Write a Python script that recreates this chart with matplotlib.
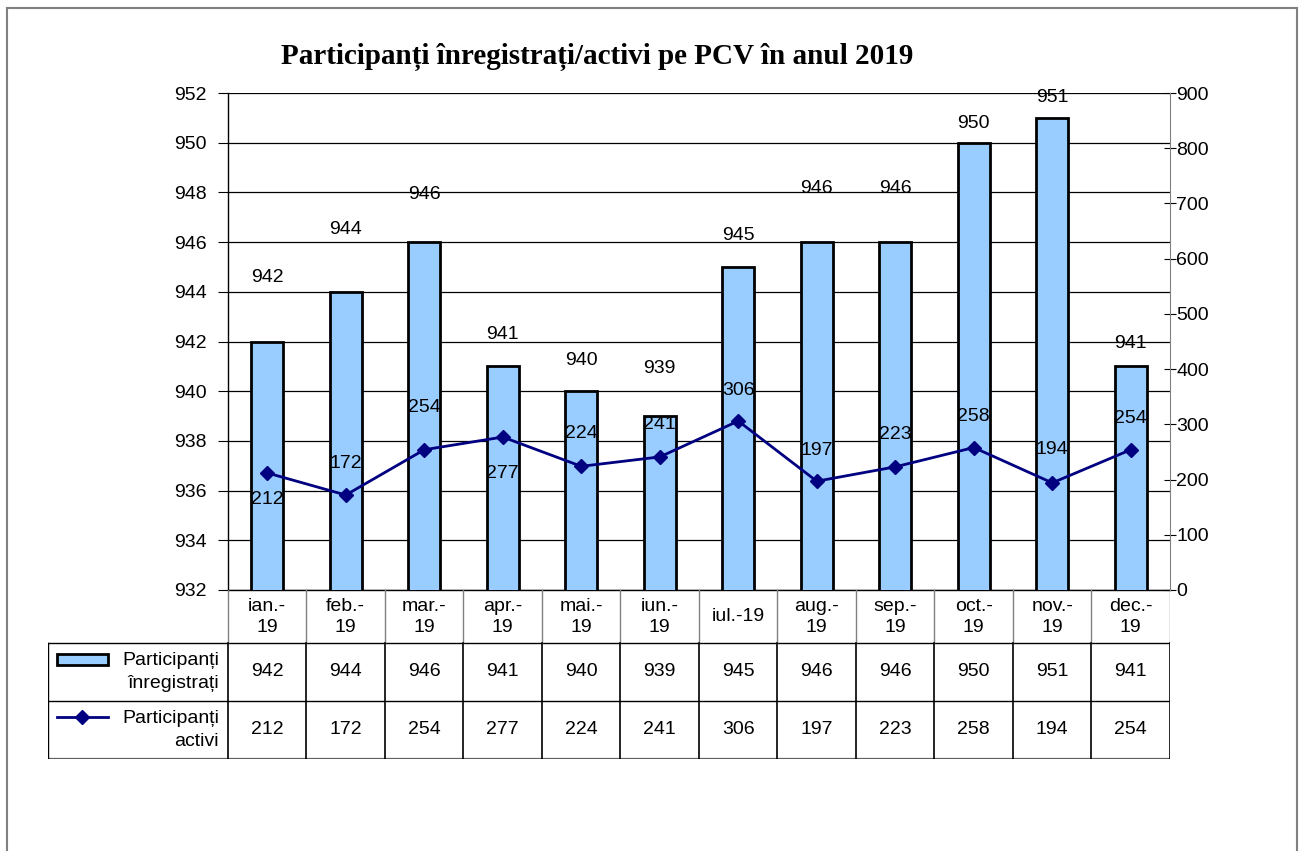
import numpy as np
import matplotlib.pyplot as plt
from matplotlib.patches import Rectangle
from matplotlib.lines import Line2D

## data
months = ['ian.-\n19', 'feb.-\n19', 'mar.-\n19', 'apr.-\n19', 'mai.-\n19', 'iun.-\n19',
          'iul.-19', 'aug.-\n19', 'sep.-\n19', 'oct.-\n19', 'nov.-\n19', 'dec.-\n19']
inregistrati = [942, 944, 946, 941, 940, 939, 945, 946, 946, 950, 951, 941]
activi = [212, 172, 254, 277, 224, 241, 306, 197, 223, 258, 194, 254]
name_bar = 'Participanți\nînregistrați'
name_line = 'Participanți\nactivi'
title = 'Participanți înregistrați/activi pe PCV în anul 2019'

# label offsets in pixels (how the labels sit in the original)
bar_lab_dy = [64, 62, 48, 32, 31, 48, 31, 54, 54, 19, 20, 23]
line_lab_dy = [-27, 32, 42, -36, 33, 32, 31, 31, 32, 31, 33, 31]

bar_color = '#99CCFF'
line_color = '#000080'
FS = 14
plt.rcParams['font.family'] = ['Liberation Sans', 'DejaVu Sans']

W, H = 1301, 851
fig = plt.figure(figsize=(W / 100, H / 100), dpi=100)

def fx(px):
    return px / W

def fy(py):
    return 1 - py / H

# outer frame
for xs, ys in [([7, 7], [8, 851]), ([7, 1297], [8, 8]), ([1297, 1297], [8, 851])]:
    fig.add_artist(Line2D([fx(v) for v in xs], [fy(v) for v in ys], color='#808080', lw=1.5))

L, R, T, B = 228, 1170, 93, 590
ax = fig.add_axes([fx(L), fy(B), fx(R) - fx(L), fy(T) - fy(B)])
x = np.arange(len(months))
ax.bar(x, inregistrati, width=0.41, color=bar_color, edgecolor='black', linewidth=2, zorder=3)
ax.set_xlim(-0.5, len(months) - 0.5)
ax.set_ylim(932, 952)
ax.set_yticks(np.arange(932, 953, 2))
ax.yaxis.grid(True, color='black', linewidth=0.9)
ax.set_axisbelow(True)
ax.set_xticks([])
ax.tick_params(axis='y', direction='out', length=7.5, labelsize=FS, pad=8)
ax.spines['top'].set_visible(False)
ax.spines['right'].set_visible(False)
for s in ['left', 'bottom']:
    ax.spines[s].set_linewidth(1.0)

for i, v in enumerate(inregistrati):
    ax.annotate(str(v), (x[i], v), xytext=(0, bar_lab_dy[i]), textcoords='offset pixels',
                ha='center', va='center', fontsize=FS, zorder=5)

ax2 = ax.twinx()
ax2.set_ylim(0, 900)
ax2.set_yticks(np.arange(0, 901, 100))
ax2.plot(x, activi, color=line_color, lw=2, marker='D', markersize=7, zorder=4)
ax2.tick_params(axis='y', direction='inout', length=9, labelsize=FS, pad=0)
for s in ['top', 'left', 'bottom']:
    ax2.spines[s].set_visible(False)
ax2.spines['right'].set_color('#808080')
for i, v in enumerate(activi):
    ax2.annotate(str(v), (x[i], v), xytext=(0, line_lab_dy[i]), textcoords='offset pixels',
                 ha='center', va='center', fontsize=FS, zorder=5)

fig.text(fx(597), fy(57), title, ha='center', va='center', fontsize=21,
         fontweight='bold', family=['Liberation Serif', 'DejaVu Serif'])

## table under the chart
TL, TT, TB = 48, 590, 759
cw = (R - L) / len(months)
tax = fig.add_axes([fx(TL), fy(TB), fx(R) - fx(TL), fy(TT) - fy(TB)])
tax.set_xlim(TL, R)
tax.set_ylim(TB, TT)
tax.axis('off')
r1, r2 = 643, 701
tax.plot([TL, R], [r1, r1], color='black', lw=1)
tax.plot([TL, R], [r2, r2], color='black', lw=1)
tax.plot([TL, R], [TB, TB], color='#606060', lw=1.6)
tax.plot([TL, TL], [r1, TB], color='black', lw=1)
for k in range(len(months) + 1):
    xc = L + k * cw
    tax.plot([xc, xc], [TT, r1], color='#808080', lw=1)
    tax.plot([xc, xc], [r1, TB], color='black', lw=1.2)
for i in range(len(months)):
    xc = L + (i + 0.5) * cw
    tax.text(xc, 617, months[i], ha='center', va='center', fontsize=FS, linespacing=1.25)
    tax.text(xc, 672, str(inregistrati[i]), ha='center', va='center', fontsize=FS)
    tax.text(xc, 730, str(activi[i]), ha='center', va='center', fontsize=FS)

tax.add_patch(Rectangle((57, 654), 51, 11, facecolor=bar_color, edgecolor='black', lw=2))
tax.plot([57, 108], [717, 717], color=line_color, lw=2)
tax.plot([82], [717], color=line_color, marker='D', markersize=7)
tax.text(219, 672, name_bar, ha='right', va='center', fontsize=FS, linespacing=1.45)
tax.text(219, 730, name_line, ha='right', va='center', fontsize=FS, linespacing=1.45)

fig.savefig('out.png', dpi=100)
